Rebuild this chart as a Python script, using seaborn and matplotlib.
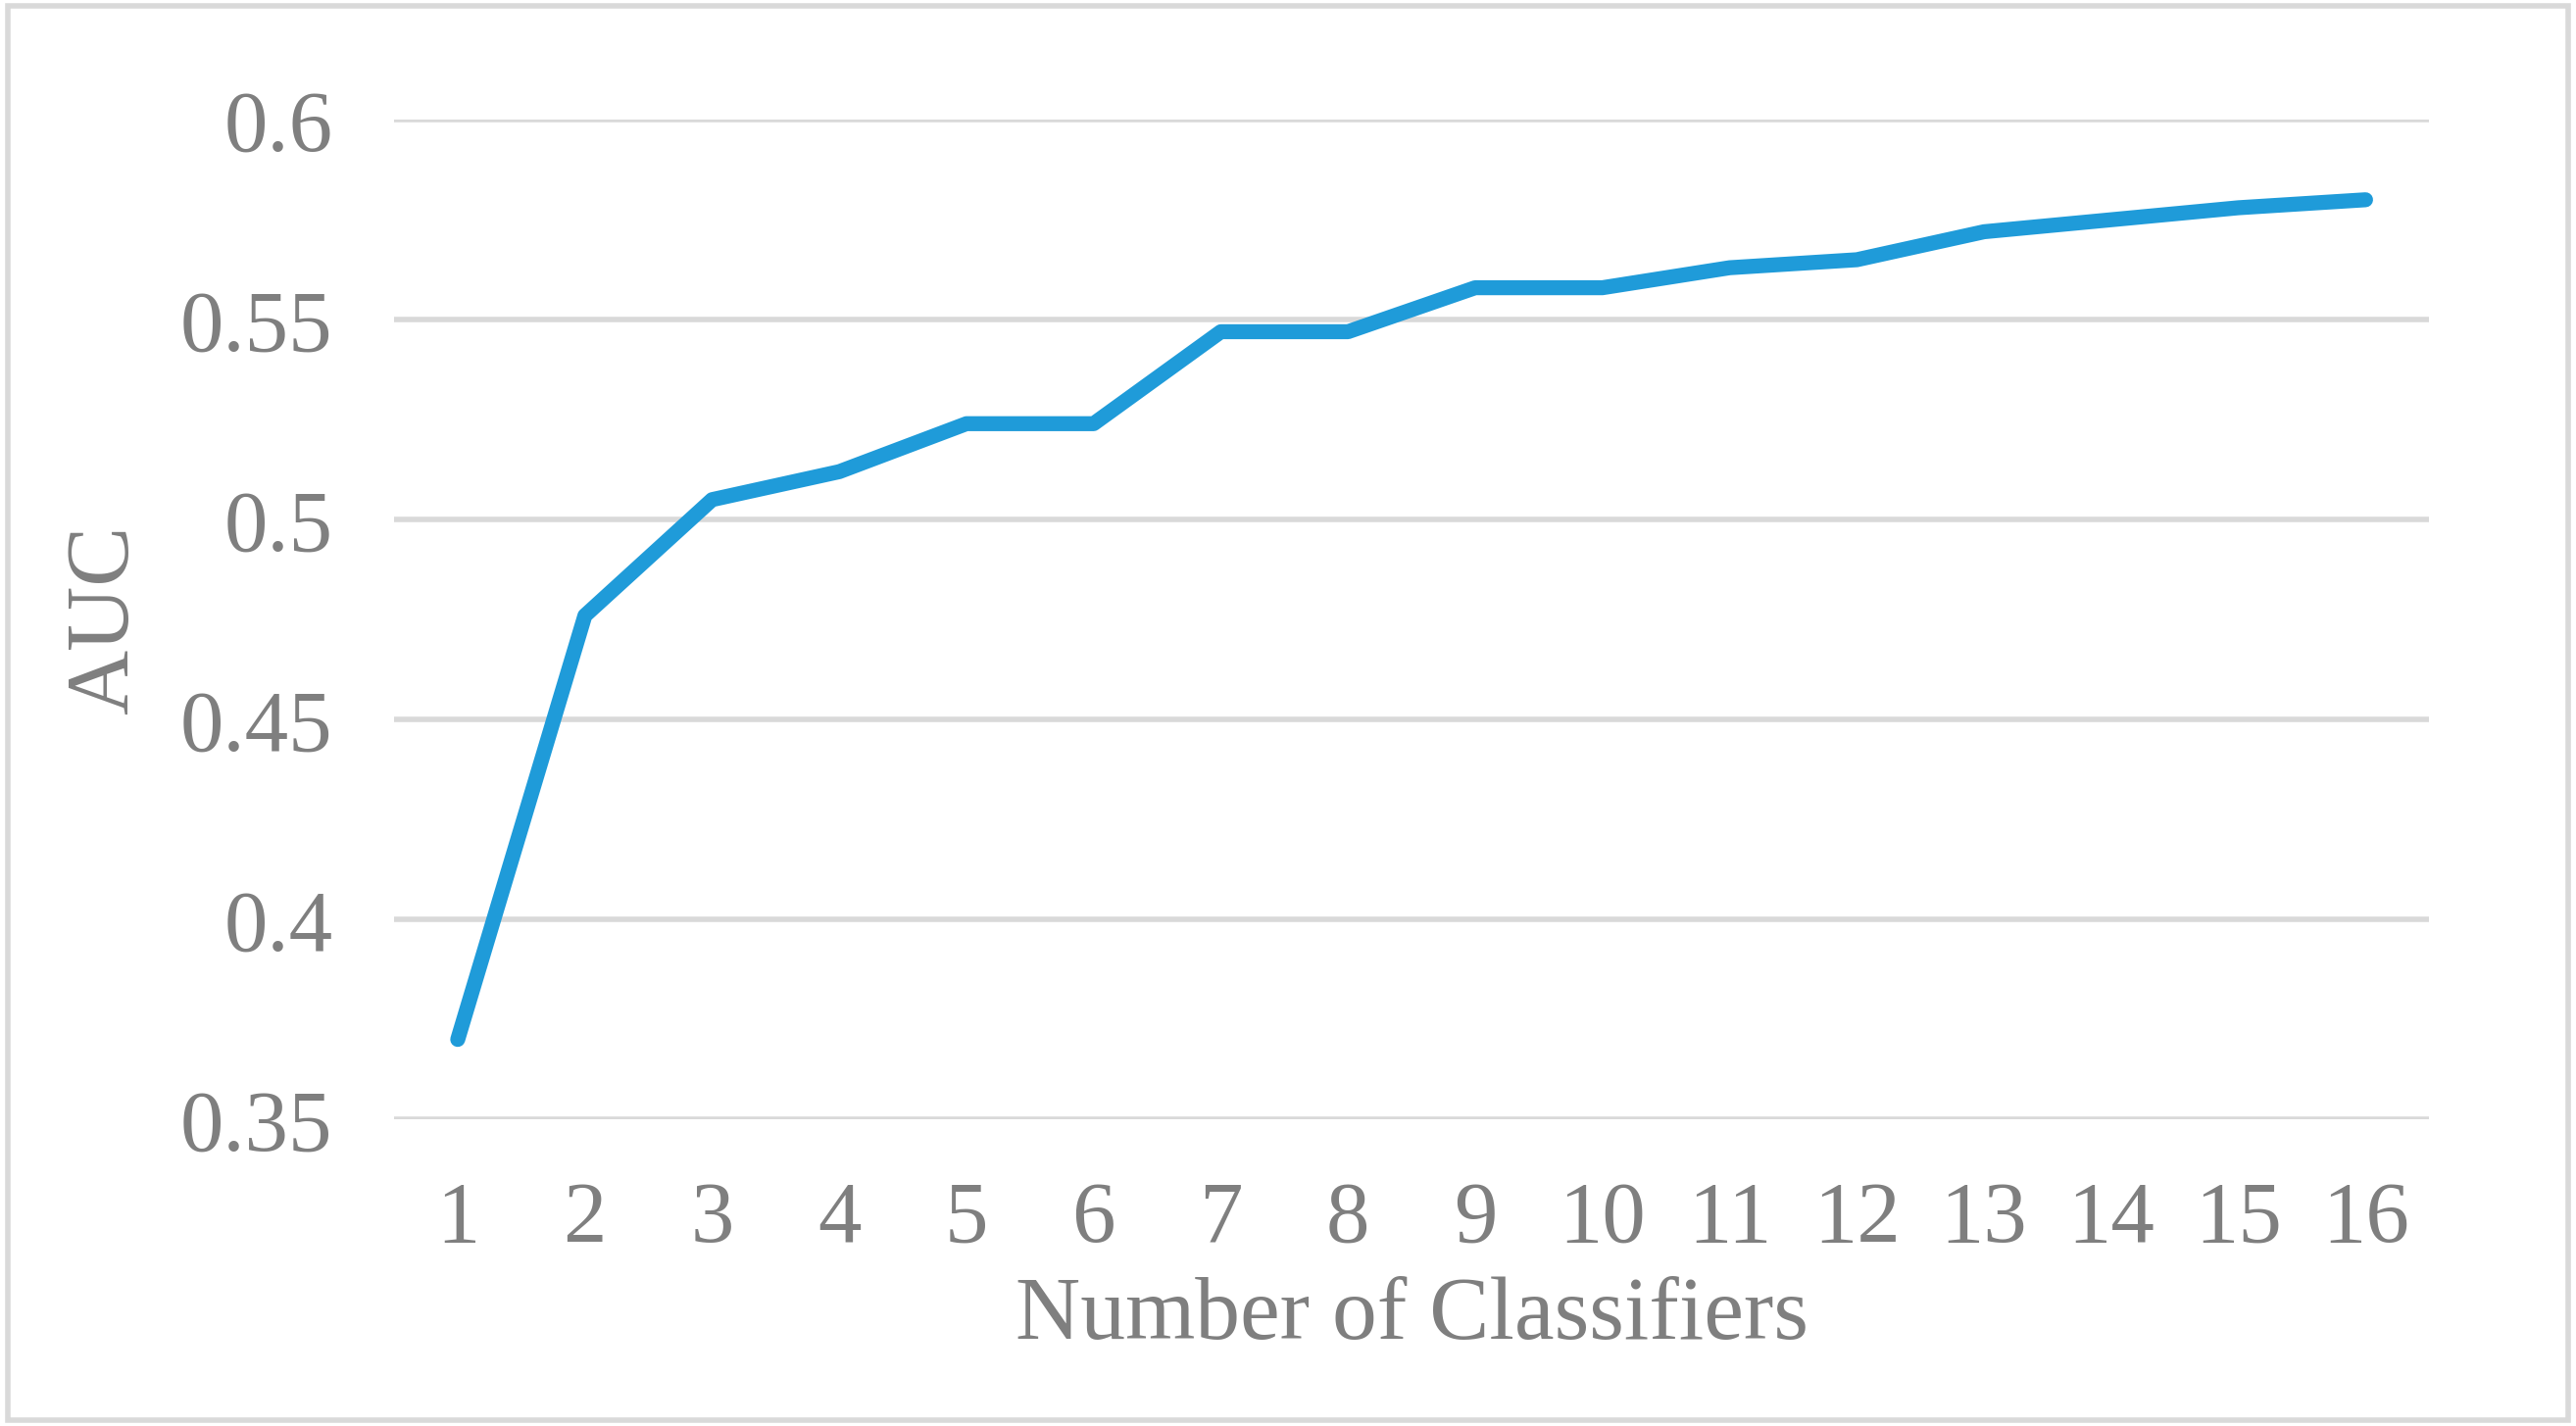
import matplotlib
matplotlib.use('Agg')
import matplotlib.pyplot as plt
import seaborn as sns
import pandas as pd

# AUC per number of classifiers
classifiers = list(range(1, 17))
auc = [0.370, 0.476, 0.505, 0.512, 0.524, 0.524, 0.547, 0.547,
       0.558, 0.558, 0.563, 0.565, 0.572, 0.575, 0.578, 0.580]
yticks = [0.35, 0.4, 0.45, 0.5, 0.55, 0.6]
ytick_labels = ['0.35', '0.4', '0.45', '0.5', '0.55', '0.6']

df = pd.DataFrame({'n': classifiers, 'auc': auc})

sns.set_theme(style='white')
plt.rcParams['font.family'] = ['Liberation Serif', 'DejaVu Serif']
grey = '#7f7f7f'

fig = plt.figure(figsize=(26.28, 14.55), dpi=100)
ax = fig.add_axes([0.153, 0.215, 0.79, 0.701])
sns.lineplot(data=df, x='n', y='auc', ax=ax, color='#1f9bd9', linewidth=11,
             solid_capstyle='round', solid_joinstyle='round')

ax.set_xlim(0.5, 16.5)
ax.set_ylim(0.35, 0.6)
ax.set_yticks(yticks)
ax.set_yticklabels(ytick_labels)
ax.set_xticks(classifiers)
ax.grid(axis='y', color='#d9d9d9', linewidth=4)
ax.set_axisbelow(True)
for s in ax.spines.values():
    s.set_visible(False)
ax.tick_params(axis='x', length=0, labelsize=64, labelcolor=grey, pad=45)
ax.tick_params(axis='y', length=0, labelsize=64, labelcolor=grey, pad=45)
ax.set_xlabel('Number of Classifiers', fontsize=66, color=grey, labelpad=12)
ax.set_ylabel('AUC', fontsize=66, color=grey, labelpad=25)

# light border around the figure
fig.patches.append(plt.Rectangle((0.003, 0.004), 0.994, 0.992, transform=fig.transFigure,
                                 fill=False, edgecolor='#d9d9d9', linewidth=4))
fig.savefig('out.png', dpi=100)
